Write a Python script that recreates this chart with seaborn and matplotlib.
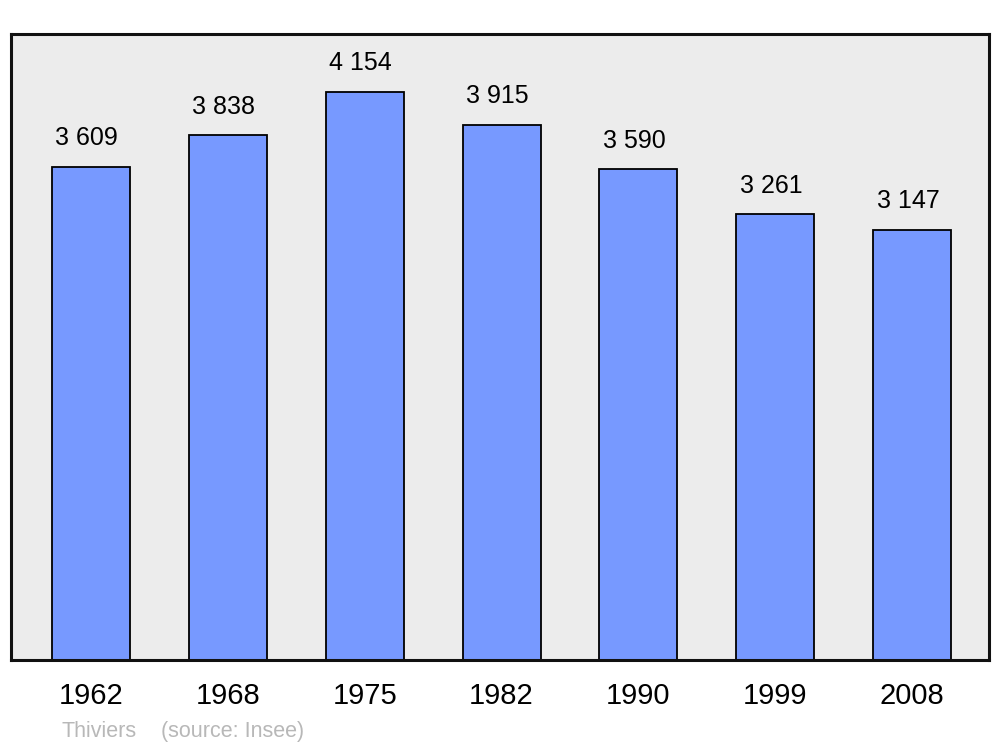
import matplotlib
matplotlib.use("Agg")
import matplotlib.pyplot as plt
import seaborn as sns
import pandas as pd

# Population data
years = ["1962", "1968", "1975", "1982", "1990", "1999", "2008"]
population = [3609, 3838, 4154, 3915, 3590, 3261, 3147]
value_labels = ["3 609", "3 838", "4 154", "3 915", "3 590", "3 261", "3 147"]

df = pd.DataFrame({"year": years, "population": population})

sns.set_theme(style="white")
plt.rcParams["font.family"] = ["Liberation Sans", "DejaVu Sans"]

fig = plt.figure(figsize=(10, 7.47), dpi=100)
ax = fig.add_axes([0.011, 0.1165, 0.978, 0.838])
ax.set_facecolor("#ececec")

sns.barplot(data=df, x="year", y="population", color="#7799ff", saturation=1,
            width=0.57, edgecolor="black", linewidth=1.3, ax=ax)

for i, (v, lab) in enumerate(zip(population, value_labels)):
    ax.annotate(lab, (i, v), xytext=(-3, 12), textcoords="offset points",
                ha="center", va="bottom", fontsize=18, color="black")

ax.set_xlim(-0.584, 6.562)
ax.set_ylim(0, 4579)
ax.set_yticks([])
ax.set_xlabel("")
ax.set_ylabel("")
ax.tick_params(axis="x", length=0, pad=16, labelsize=21, colors="black")
for s in ax.spines.values():
    s.set_visible(True)
    s.set_linewidth(2.2)
    s.set_color("#111111")

fig.text(0.061, 0.021, "Thiviers", fontsize=15.5, color="#b8b8b8", ha="left", va="center")
fig.text(0.161, 0.021, "(source: Insee)", fontsize=15.5, color="#b8b8b8", ha="left", va="center")

fig.savefig("out.png", dpi=100)
